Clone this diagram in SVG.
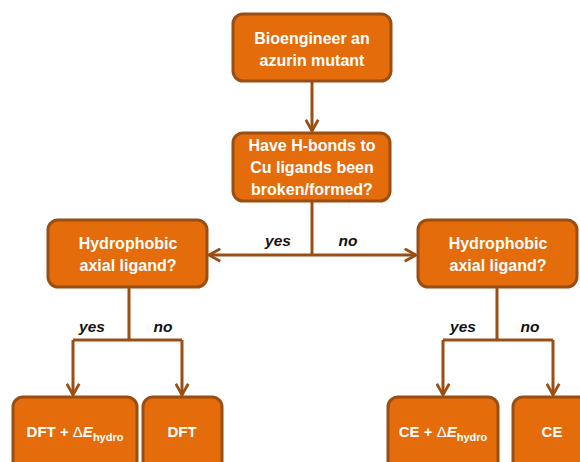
<svg xmlns="http://www.w3.org/2000/svg" width="580" height="462" viewBox="0 0 580 462">
<defs>
<style>
.box{fill:#E46C0A;stroke:#9A4E14;stroke-width:3}
.t{font-family:"Liberation Sans",Arial,sans-serif;font-weight:bold;font-size:16px;fill:#fff;text-anchor:middle}
.s{font-size:15px}
.lbl{font-family:"Liberation Sans",Arial,sans-serif;font-weight:bold;font-style:italic;font-size:15.5px;fill:#111;text-anchor:middle}
.ln{fill:none;stroke:#9A4E14;stroke-width:3}
</style>
<marker id="ah" viewBox="0 0 12 12" refX="10" refY="6" markerWidth="5" markerHeight="5" markerUnits="strokeWidth" orient="auto">
<path d="M1,1 L10,6 L1,11" fill="none" stroke="#9A4E14" stroke-width="2.2"/>
</marker>
</defs>
<rect width="580" height="462" fill="#fff"/>
<g id="connectors">
<path class="ln" d="M312,81 V131" marker-end="url(#ah)"/>
<path class="ln" d="M312,201 V255"/>
<path class="ln" d="M312,255 H209" marker-end="url(#ah)"/>
<path class="ln" d="M312,255 H416" marker-end="url(#ah)"/>
<path class="ln" d="M129,287 V340"/>
<path class="ln" d="M73,340 H182"/>
<path class="ln" d="M73,340 V395" marker-end="url(#ah)"/>
<path class="ln" d="M182,340 V395" marker-end="url(#ah)"/>
<path class="ln" d="M497,287 V340"/>
<path class="ln" d="M443,340 H553"/>
<path class="ln" d="M443,340 V395" marker-end="url(#ah)"/>
<path class="ln" d="M553,340 V395" marker-end="url(#ah)"/>
<text class="lbl" x="278" y="246">yes</text>
<text class="lbl" x="348" y="246">no</text>
<text class="lbl" x="92" y="332">yes</text>
<text class="lbl" x="163" y="332">no</text>
<text class="lbl" x="463" y="332">yes</text>
<text class="lbl" x="530" y="332">no</text>
</g>
<g id="n1"><rect class="box" x="233" y="14" width="158" height="67" rx="10"/>
<text class="t" x="312" y="44">Bioengineer  an</text><text class="t" x="312" y="66">azurin mutant</text></g>
<g id="n2"><rect class="box" x="233" y="133" width="157" height="68" rx="10"/>
<text class="t" x="312" y="151">Have H-bonds to</text><text class="t" x="312" y="173">Cu ligands been</text><text class="t" x="312" y="195">broken/formed?</text></g>
<g id="n3"><rect class="box" x="48" y="220" width="159" height="67" rx="10"/>
<text class="t" x="128" y="249">Hydrophobic</text><text class="t" x="128" y="271">axial ligand?</text></g>
<g id="n4"><rect class="box" x="418" y="220" width="159" height="67" rx="10"/>
<text class="t" x="498" y="249">Hydrophobic</text><text class="t" x="498" y="271">axial ligand?</text></g>
<g id="n5"><rect class="box" x="13" y="397" width="124" height="75" rx="10"/>
<text class="t s" x="75" y="437">DFT + <tspan font-weight="normal">Δ</tspan><tspan font-style="italic">E</tspan><tspan font-size="11" dy="4">hydro</tspan></text></g>
<g id="n6"><rect class="box" x="143" y="397" width="79" height="75" rx="10"/>
<text class="t s" x="182" y="437">DFT</text></g>
<g id="n7"><rect class="box" x="388" y="397" width="110" height="75" rx="10"/>
<text class="t s" x="443" y="437">CE + <tspan font-weight="normal">Δ</tspan><tspan font-style="italic">E</tspan><tspan font-size="11" dy="4">hydro</tspan></text></g>
<g id="n8"><rect class="box" x="513" y="397" width="80" height="75" rx="10"/>
<text class="t s" x="552" y="437">CE</text></g>
</svg>
